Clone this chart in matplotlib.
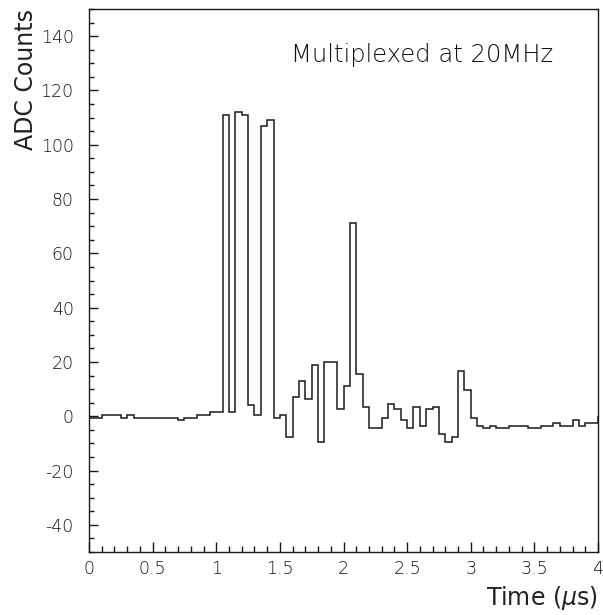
import matplotlib
matplotlib.use("Agg")
import matplotlib.pyplot as plt
import numpy as np
from matplotlib.ticker import MultipleLocator

plt.rcParams.update({
    "font.family": ["DejaVu Sans"],
    "font.weight": "light",
})

# 50 ns bins (20 MHz sampling), 0 - 4 us
bin_edges = np.arange(81) * 0.05
adc_counts = [
    -0.5, -0.5, 0.5, 0.5, 0.5, -0.5, 0.5, -0.5, -0.5, -0.5,
    -0.5, -0.5, -0.5, -0.5, -1.5, -0.5, -0.5, 0.5, 0.5, 1.5,
    1.5, 111, 1.5, 112, 111, 4, 0.5, 107, 109, -0.5,
    0.5, -7.5, 7, 13, 6.5, 19, -9.5, 20, 20, 2.5,
    11, 71, 15.5, 3.5, -4.5, -4.5, -0.5, 4.5, 2.5, -1.5,
    -4.5, 3.5, -3.5, 2.5, 3.5, -6.5, -9.5, -7.5, 16.5, 9.5,
    -0.5, -3.5, -4.5, -3.5, -4.5, -4.5, -3.5, -3.5, -3.5, -4.5,
    -4.5, -3.5, -3.5, -2.5, -3.5, -3.5, -1.5, -3.5, -2.5, -2.5,
]
x_ticks = [0, 0.5, 1, 1.5, 2, 2.5, 3, 3.5, 4]
x_tick_labels = ["0", "0.5", "1", "1.5", "2", "2.5", "3", "3.5", "4"]
y_ticks = [-40, -20, 0, 20, 40, 60, 80, 100, 120, 140]

fig = plt.figure(figsize=(6.03, 6.15), dpi=100)
ax = fig.add_axes([89 / 603, 1 - 552 / 615, 509 / 603, 543 / 615])

ax.stairs(adc_counts, bin_edges, color="#1a1a1a", linewidth=1.1)

ax.set_xlim(0, 4)
ax.set_ylim(-50, 150)
ax.set_xticks(x_ticks, x_tick_labels)
ax.set_yticks(y_ticks, [str(v) for v in y_ticks])
ax.xaxis.set_minor_locator(MultipleLocator(0.1))
ax.yaxis.set_minor_locator(MultipleLocator(5))
ax.tick_params(which="both", direction="in", top=False, right=False,
               labelsize=12.5, colors="#1a1a1a", labelcolor="#111111", width=1.0)
ax.tick_params(axis="x", which="major", length=7.5, pad=6)
ax.tick_params(axis="x", which="minor", length=4)
ax.tick_params(axis="y", which="major", length=6.5, pad=11)
ax.tick_params(axis="y", which="minor", length=3.3)
for sp in ax.spines.values():
    sp.set_linewidth(1.0)
    sp.set_color("#1a1a1a")

ax.set_xlabel("Time ($\\mu$s)", loc="right", fontsize=17, color="#222222", labelpad=4)
ax.set_ylabel("ADC Counts", loc="top", fontsize=17, color="#222222", labelpad=2)
ax.text(0.912, 0.915, "Multiplexed at 20MHz", transform=ax.transAxes,
        ha="right", va="center", fontsize=17.5, color="#111111")

fig.savefig("out.png", dpi=100)
